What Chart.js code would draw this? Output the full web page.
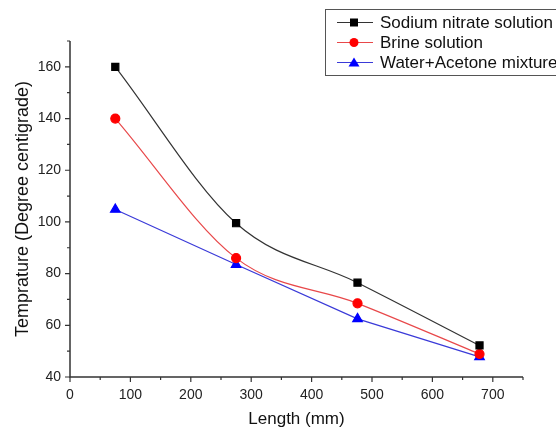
<!DOCTYPE html>
<html>
<head>
<meta charset="utf-8">
<script src="https://cdn.jsdelivr.net/npm/chart.js@4"></script>
<style>
  html, body { margin: 0; padding: 0; background: #fff; }
  #wrap { width: 556px; height: 430px; position: relative; }
</style>
</head>
<body>
<div id="wrap"><canvas id="tempChart"></canvas></div>
<script>
// Chart data
const lengths = [75, 275, 476, 678];
const sodiumNitrate = [160, 99.5, 76.5, 52.2];
const brine = [140, 86, 68.5, 48.9];
const waterAcetone = [104.8, 83.5, 62.5, 47.8];
const seriesLabels = ["Sodium nitrate solution", "Brine solution", "Water+Acetone mixture"];
const xTickLabels = [0, 100, 200, 300, 400, 500, 600, 700];
const yTickLabels = [40, 60, 80, 100, 120, 140, 160];

const toPoints = (ys) => ys.map((y, i) => ({ x: lengths[i], y: y }));
const FONT = "'Liberation Sans', Arial, sans-serif";

// draws axis lines, major/minor ticks and the boxed legend
const axesAndLegend = {
    id: "axesAndLegend",
    afterDraw(chart) {
        const ctx = chart.ctx;
        const xs = chart.scales.x, ys = chart.scales.y;
        const area = chart.chartArea;
        ctx.save();
        ctx.strokeStyle = "#333";
        ctx.lineWidth = 1.5;
        ctx.beginPath();
        ctx.moveTo(area.left, area.top);
        ctx.lineTo(area.left, area.bottom);
        ctx.lineTo(area.right, area.bottom);
        ctx.stroke();
        ctx.lineWidth = 1.2;
        ctx.beginPath();
        for (let v = 0; v <= 750; v += 50) {
            const px = xs.getPixelForValue(v);
            const len = v % 100 === 0 ? 5 : 3;
            ctx.moveTo(px, area.bottom);
            ctx.lineTo(px, area.bottom + len);
        }
        for (let v = 40; v <= 170; v += 10) {
            const py = ys.getPixelForValue(v);
            const len = v % 20 === 0 ? 5 : 3;
            ctx.moveTo(area.left, py);
            ctx.lineTo(area.left - len, py);
        }
        ctx.stroke();

        // legend box (runs off the right edge like the original)
        const bx = 325, by = 9, bw = 240, bh = 66;
        ctx.fillStyle = "#fff";
        ctx.fillRect(bx, by, bw, bh);
        ctx.strokeStyle = "#555";
        ctx.lineWidth = 1;
        ctx.strokeRect(bx + 0.5, by + 0.5, bw, bh);
        ctx.font = "17px " + FONT;
        ctx.textBaseline = "middle";
        chart.data.datasets.forEach((ds, i) => {
            const yy = by + 13.5 + i * 20;
            ctx.strokeStyle = ds.borderColor;
            ctx.lineWidth = 1;
            ctx.beginPath();
            ctx.moveTo(bx + 12, yy);
            ctx.lineTo(bx + 48, yy);
            ctx.stroke();
            ctx.fillStyle = ds.pointBackgroundColor;
            ctx.beginPath();
            const cx = bx + 29;
            if (ds.pointStyle === "rect") {
                ctx.rect(cx - 4, yy - 4, 8, 8);
            } else if (ds.pointStyle === "circle") {
                ctx.arc(cx, yy, 4.5, 0, Math.PI * 2);
            } else {
                ctx.moveTo(cx, yy - 5);
                ctx.lineTo(cx + 5.5, yy + 4);
                ctx.lineTo(cx - 5.5, yy + 4);
                ctx.closePath();
            }
            ctx.fill();
            ctx.fillStyle = "#111";
            ctx.fillText(ds.label, bx + 55, yy + 1);
        });
        ctx.restore();
    }
};

const ctx = document.getElementById("tempChart").getContext("2d");
new Chart(ctx, {
    type: "line",
    data: {
        datasets: [
            {
                label: seriesLabels[0],
                data: toPoints(sodiumNitrate),
                borderColor: "#333",
                borderWidth: 1.2,
                pointStyle: "rect",
                pointRadius: 5,
                pointBackgroundColor: "#000",
                pointBorderColor: "#000",
                cubicInterpolationMode: "monotone",
                fill: false
            },
            {
                label: seriesLabels[1],
                data: toPoints(brine),
                borderColor: "#e8484a",
                borderWidth: 1.2,
                pointStyle: "circle",
                pointRadius: 4.5,
                pointBackgroundColor: "#ff0000",
                pointBorderColor: "#ff0000",
                cubicInterpolationMode: "monotone",
                fill: false
            },
            {
                label: seriesLabels[2],
                data: toPoints(waterAcetone),
                borderColor: "#3a3ad8",
                borderWidth: 1.2,
                pointStyle: "triangle",
                pointRadius: 5.5,
                pointBackgroundColor: "#0000ff",
                pointBorderColor: "#0000ff",
                tension: 0,
                fill: false
            }
        ]
    },
    options: {
        responsive: true,
        maintainAspectRatio: false,
        animation: false,
        layout: { padding: { top: 41, right: 33, left: 8, bottom: 0 } },
        plugins: {
            legend: { display: false },
            tooltip: { enabled: false }
        },
        scales: {
            x: {
                type: "linear",
                min: 0,
                max: 750,
                afterBuildTicks: (scale) => { scale.ticks = xTickLabels.map(v => ({ value: v })); },
                grid: { display: false, drawTicks: false },
                border: { display: false },
                ticks: { color: "#222", font: { family: FONT, size: 14 }, padding: 10 },
                title: { display: true, text: "Length (mm)", color: "#111", font: { family: FONT, size: 17 }, padding: { top: 5, bottom: 0 } },
                afterFit: (scale) => { scale.height = 53; }
            },
            y: {
                min: 40,
                max: 170,
                afterBuildTicks: (scale) => { scale.ticks = yTickLabels.map(v => ({ value: v })); },
                grid: { display: false, drawTicks: false },
                border: { display: false },
                ticks: { color: "#222", font: { family: FONT, size: 14 }, padding: 9 },
                title: { display: true, text: "Temprature (Degree centigrade)", color: "#111", font: { family: FONT, size: 18 }, padding: { bottom: 4 } },
                afterFit: (scale) => { scale.width = 62; }
            }
        }
    },
    plugins: [axesAndLegend]
});
</script>
</body>
</html>
